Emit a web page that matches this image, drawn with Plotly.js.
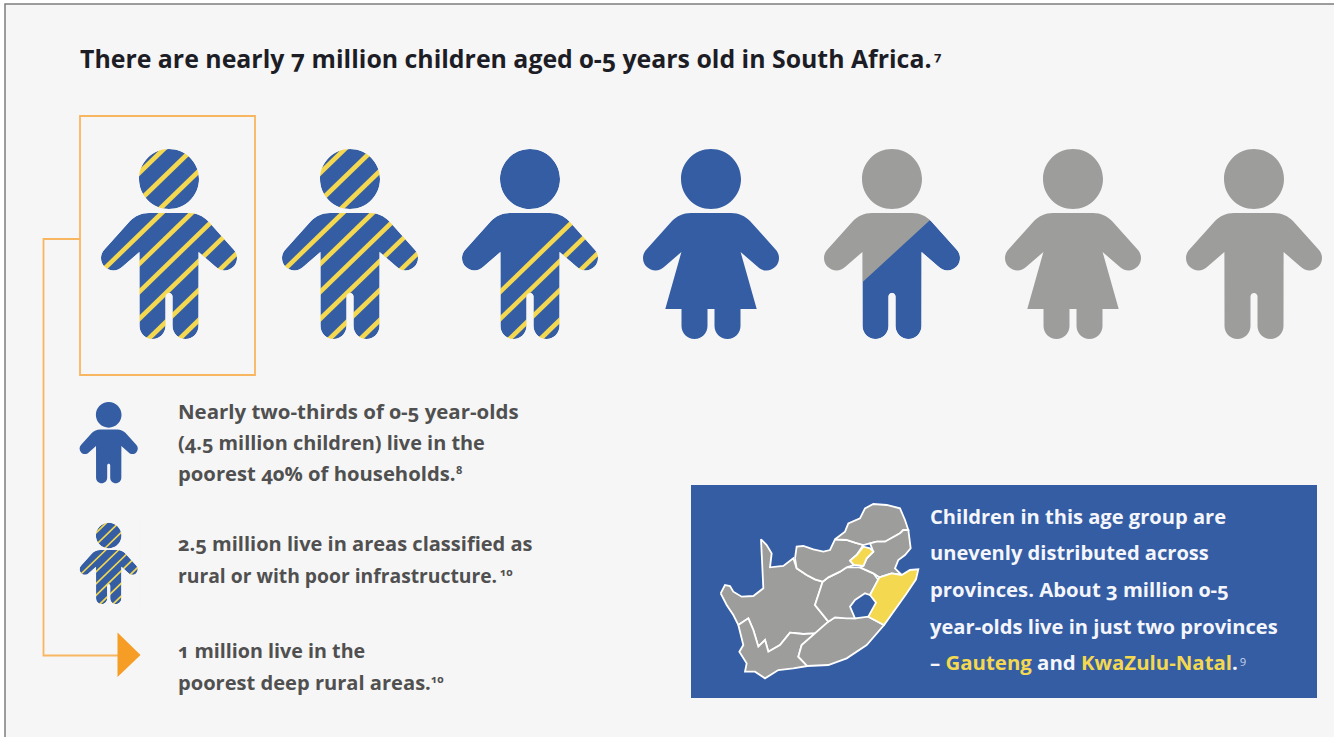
<!DOCTYPE html>
<html>
<head>
<meta charset="utf-8">
<script src="https://cdn.plot.ly/plotly-3.0.1.min.js"></script>
<style>html,body{margin:0;padding:0;background:#fff}#chart{width:1334px;height:737px}
svg text{font-feature-settings:"onum" 1;font-variant-numeric:oldstyle-nums}</style>
</head>
<body>
<div id="chart"></div>
<script>
// Headline figures, in millions of children aged 0-5
var totalChildren = 7;
var poorestMillions = 4.5;
var ruralMillions = 2.5;
var deepRuralMillions = 1;

// One pictogram per million children
var childKinds = ["boy", "boy", "boy", "girl", "boy", "girl", "boy"];

var titleText = "There are nearly 7 million children aged 0-5 years old in South Africa.";
var poorestLines = ["Nearly two-thirds of 0-5 year-olds", "(4.5 million children) live in the", "poorest 40% of households."];
var ruralLines = ["2.5 million live in areas classified as", "rural or with poor infrastructure."];
var deepRuralLines = ["1 million live in the", "poorest deep rural areas."];
var provinceLines = [
  "Children in this age group are",
  "unevenly distributed across",
  "provinces. About 3 million 0-5",
  "year-olds live in just two provinces",
  "– <span style=\"color:#f4d84f\">Gauteng</span> and <span style=\"color:#f4d84f\">KwaZulu-Natal</span>."
];
var footnoteMarks = ["7", "8", "10", "10", "9"];

// Province outlines in map units, [x, y] pairs
var northernCape = [[62,310],[75,285],[90,288],[100,305],[125,320],[160,318],[190,295],[183,148],[200,165],[215,190],[210,232],[250,228],[280,205],[290,235],[320,255],[345,268],[368,275],[345,345],[385,395],[345,430],[310,432],[270,428],[240,465],[205,485],[195,450],[175,470],[160,420],[145,385],[115,405],[100,375],[80,345]];
var westernCape = [[115,405],[145,385],[160,420],[175,470],[195,450],[205,485],[240,465],[270,428],[310,432],[345,430],[305,465],[295,500],[322,528],[280,535],[235,540],[195,565],[165,545],[135,545],[140,520],[118,485],[130,465]];
var easternCape = [[345,430],[385,395],[405,382],[440,385],[465,385],[505,380],[552,405],[500,465],[440,505],[385,525],[322,528],[295,500],[305,465]];
var freeState = [[368,275],[385,262],[420,245],[440,232],[480,232],[520,250],[535,270],[510,315],[495,310],[465,330],[450,350],[465,385],[440,385],[405,382],[385,395],[345,345]];
var kwaZuluNatal = [[538,262],[575,250],[605,255],[630,240],[655,238],[648,268],[620,310],[580,365],[552,405],[505,380],[528,338],[510,315]];
var northWest = [[285,205],[290,170],[310,168],[340,178],[370,185],[390,180],[405,148],[440,150],[465,158],[490,165],[470,195],[450,212],[462,225],[440,232],[420,245],[385,262],[368,275],[345,268],[320,255],[290,235]];
var gauteng = [[450,212],[470,195],[490,170],[510,175],[520,185],[500,205],[490,228],[462,225]];
var mpumalanga = [[490,228],[500,205],[520,185],[510,160],[530,155],[555,155],[600,130],[610,120],[625,120],[632,175],[615,195],[595,210],[585,235],[605,255],[575,250],[538,262],[520,250],[480,232]];
var limpopo = [[405,148],[435,125],[445,100],[480,85],[495,55],[520,42],[560,45],[600,55],[615,90],[625,120],[610,120],[600,130],[555,155],[530,155],[510,160],[490,165],[465,158],[440,150]];

var BLUE = "#345da4", YELLOW = "#f4d84f", GREY = "#9d9d9c", PAGE = "#f6f6f6", ORANGE = "#f9b660", INK = "#1d1d26", BODY_INK = "#505050";
var FONT = "'Open Sans', Lato, sans-serif";

var shapes = [];
var annotations = [];

// Cubic approximation of a circular arc, angles in degrees, y pointing down
function arc(cx, cy, r, a0, a1, map, lead) {
  var n = Math.ceil(Math.abs(a1 - a0) / 90), step = (a1 - a0) / n * Math.PI / 180;
  var k = 4 / 3 * Math.tan(step / 4) * r, a = a0 * Math.PI / 180;
  var s = lead + map(cx + r * Math.cos(a), cy + r * Math.sin(a));
  for (var i = 0; i < n; i++) {
    var b = a + step;
    s += "C" + map(cx + r * Math.cos(a) - k * Math.sin(a), cy + r * Math.sin(a) + k * Math.cos(a)) +
         " " + map(cx + r * Math.cos(b) + k * Math.sin(b), cy + r * Math.sin(b) - k * Math.cos(b)) +
         " " + map(cx + r * Math.cos(b), cy + r * Math.sin(b));
    a = b;
  }
  return s;
}

// Outline of a child: head plus body, in local units with the head top at y = 0
function personPath(kind, map) {
  function L(x, y) { return "L" + map(x, y); }
  var p = arc(0, 30, 30, 0, 360, map, "M") + "Z";
  p += "M" + map(-20, 64) + L(20, 64) + "C" + map(28, 64) + " " + map(34, 67) + " " + map(39, 72);
  p += arc(55.5, 109, 12.5, -45, 135, map, "L") + L(29.6, 103);
  if (kind === "girl") {
    p += L(45.7, 160) + L(29.5, 160) + arc(16.5, 177, 13, 0, 180, map, "L") + L(3.5, 160) + L(-3.5, 160);
    p += arc(-16.5, 177, 13, 0, 180, map, "L") + L(-29.5, 160) + L(-45.7, 160) + L(-29.6, 103);
  } else {
    p += arc(16.5, 177, 13, 0, 180, map, "L") + arc(0, 147.5, 3.5, 0, -180, map, "L");
    p += arc(-16.5, 177, 13, 0, 180, map, "L") + L(-29.6, 103);
  }
  p += arc(-55.5, 109, 12.5, 45, 225, map, "L") + L(-39, 72) + "C" + map(-34, 67) + " " + map(-28, 64) + " " + map(-20, 64) + "Z";
  return p;
}

function addPath(path, fill, extra) {
  var s = {type: "path", xref: "x", yref: "y", path: path, fillcolor: fill, line: {width: 0}, layer: "above"};
  if (extra) { for (var key in extra) s[key] = extra[key]; }
  shapes.push(s);
}

// A child pictogram: blue share below a diagonal, yellow stripes for the rural share.
// Stripes and the split are drawn over the figure, then trimmed by a page-coloured mask.
var stripeOffsets = [200, 170, 141, 114, 86, 57, 51, 23, -5];
function addChild(kind, cx, top, scale, blueShare, stripeShare, stripeWidth) {
  function map(x, y) { return (cx + x * scale).toFixed(2) + "," + (top + y * scale).toFixed(2); }
  var outline = personPath(kind, map);
  addPath(outline, blueShare > 0 ? BLUE : GREY);
  var trimmed = false;
  if (blueShare > 0 && blueShare < 1) {
    var c = 212 * (1 - blueShare), slope = 0.92;
    addPath("M" + map(-74, c + 74 * slope) + "L" + map(74, c - 74 * slope) + "L" + map(74, -6) + "L" + map(-74, -6) + "Z", GREY);
    trimmed = true;
  }
  var nStripes = Math.floor(stripeShare * stripeOffsets.length + 1e-9);
  for (var i = 0; i < nStripes; i++) {
    var k = 0.97, off = stripeOffsets[i];
    var x0 = Math.max(-72, (off - 192) / k), x1 = Math.min(72, (off + 2) / k);
    if (off <= 51) {
      // head stripes stop short of the shoulders
      x0 = Math.max(x0, (off - 62) / k);
    } else {
      x1 = Math.min(x1, (off - 62) / k);
    }
    addPath("M" + map(x0, off - k * x0) + "L" + map(x1, off - k * x1), "rgba(0,0,0,0)", {line: {color: YELLOW, width: stripeWidth}});
    trimmed = true;
  }
  if (trimmed) {
    var box = "M" + map(-75, -8) + "L" + map(75, -8) + "L" + map(75, 198) + "L" + map(-75, 198) + "Z";
    addPath(box + outline, PAGE, {fillrule: "evenodd"});
  }
}

function clampShare(v) { return Math.max(0, Math.min(1, v)); }

// Page ground and frame, running off the right and bottom edges
addPath("M5,4L1350,4L1350,760L5,760Z", PAGE, {line: {color: "#7d7d7d", width: 1.5}, layer: "below"});

// Blue panel behind the map
addPath("M691,485L1317,485L1317,698L691,698Z", BLUE, {layer: "below"});

// Row of seven children
var rowCentres = [169, 350, 530, 711, 892, 1073, 1254];
for (var i = 0; i < totalChildren; i++) {
  addChild(childKinds[i], rowCentres[i], 149, 1, clampShare(poorestMillions - i), clampShare(ruralMillions - i), 4.6);
}

// Legend icons
addChild("boy", 108.7, 402, 0.428, 1, 0, 0);
addChild("boy", 108.7, 522.7, 0.428, 1, 1, 1.7);

// Call-out frame around the first child and its connector to the arrow head
addPath("M80,116L255,116L255,375L80,375Z", "rgba(0,0,0,0)", {line: {color: ORANGE, width: 1.8}});
addPath("M80,239L43.5,239L43.5,655.5L118,655.5", "rgba(0,0,0,0)", {line: {color: ORANGE, width: 1.8}});
addPath("M117.5,632.5L140.5,655L117.5,677Z", "#f59d25");

// Text
function addLine(text, x, y, size, color, weight) {
  annotations.push({xref: "x", yref: "y", x: x, y: y, text: text, showarrow: false, xanchor: "left", yanchor: "middle", align: "left",
    font: {family: FONT, size: size, color: color, weight: weight || 700}});
}
var TEXT_LEFT = 176, TITLE_LEFT = 78, PANEL_LEFT = 928;
addLine(titleText, TITLE_LEFT, 58, 24.86, INK);
var poorestY = [411, 442, 473], ruralY = [543, 575], deepY = [650, 682], provinceY = [516, 552, 589, 626, 662];
var poorestSizes = [20.45, 19.9, 20.25], ruralSizes = [20.05, 19.3], deepSizes = [19.7, 20.1], provinceSizes = [20.1, 20.1, 20.3, 20.15, 20.4];
poorestLines.forEach(function (t, i) { addLine(t, TEXT_LEFT, poorestY[i], poorestSizes[i], BODY_INK); });
ruralLines.forEach(function (t, i) { addLine(t, TEXT_LEFT, ruralY[i], ruralSizes[i], BODY_INK); });
deepRuralLines.forEach(function (t, i) { addLine(t, TEXT_LEFT, deepY[i], deepSizes[i], BODY_INK); });
provinceLines.forEach(function (t, i) { addLine(t, PANEL_LEFT, provinceY[i], provinceSizes[i], "#f4f6fb"); });

// Footnote markers sit just after their sentences
addLine(footnoteMarks[0], 932, 56, 13, INK);
addLine(footnoteMarks[1], 454, 469, 11, BODY_INK);
addLine(footnoteMarks[2], 498, 571, 11, BODY_INK);
addLine(footnoteMarks[3], 429, 678, 11, BODY_INK);
addLine(footnoteMarks[4], 1238, 659, 11, "#c9d3e8", 400);

// Provinces as filled traces on the page axes
function provinceTrace(points, fill) {
  var xs = points.map(function (p) { return 700 + p[0] / 3; });
  var ys = points.map(function (p) { return 490 + p[1] / 3; });
  xs.push(xs[0]); ys.push(ys[0]);
  return {type: "scatter", mode: "lines", x: xs, y: ys, fill: "toself", fillcolor: fill, line: {color: "#ffffff", width: 1.8}, hoverinfo: "skip", showlegend: false};
}
var traces = [
  provinceTrace(northernCape, GREY), provinceTrace(westernCape, GREY), provinceTrace(easternCape, GREY),
  provinceTrace(freeState, GREY), provinceTrace(northWest, GREY), provinceTrace(limpopo, GREY),
  provinceTrace(mpumalanga, GREY), provinceTrace(kwaZuluNatal, YELLOW), provinceTrace(gauteng, YELLOW)
];

var layout = {
  width: 1334, height: 737, margin: {l: 0, r: 0, t: 0, b: 0},
  paper_bgcolor: "#ffffff", plot_bgcolor: "rgba(0,0,0,0)", showlegend: false,
  xaxis: {range: [0, 1334], visible: false, fixedrange: true},
  yaxis: {range: [737, 0], visible: false, fixedrange: true},
  shapes: shapes, annotations: annotations
};
Plotly.newPlot("chart", traces, layout, {displayModeBar: false, staticPlot: true});
</script>
</body>
</html>
